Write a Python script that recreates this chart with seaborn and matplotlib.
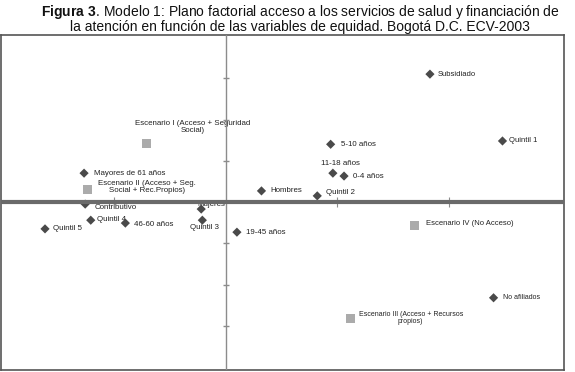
import matplotlib
matplotlib.use("Agg")
import matplotlib.pyplot as plt
import seaborn as sns
import pandas as pd

# factor coordinates
labels = ["Subsidiado", "Quintil 1", "Escenario I (Acceso + Seguridad\nSocial)",
          "Mayores de 61 años", "Escenario II (Acceso + Seg.\nSocial + Rec.Propios)",
          "Contributivo", "Quintil 4", "46-60 años", "Quintil 5", "Mujeres",
          "Quintil 3", "19-45 años", "5-10 años", "11-18 años", "0-4 años",
          "Hombres", "Quintil 2", "Escenario IV (No Acceso)", "No afiliados",
          "Escenario III (Acceso + Recursos\npropios)"]
x_vals = [1.83, 2.48, -0.71, -1.27, -1.24, -1.26, -1.21, -0.90, -1.62, -0.22,
          -0.21, 0.10, 0.94, 0.96, 1.06, 0.32, 0.82, 1.69, 2.40, 1.12]
y_vals = [3.10, 1.48, 1.43, 0.70, 0.31, -0.05, -0.44, -0.51, -0.65, -0.17,
          -0.44, -0.73, 1.40, 0.70, 0.63, 0.27, 0.15, -0.58, -2.32, -2.83]
kinds = ["var", "var", "esc", "var", "esc", "var", "var", "var", "var", "var",
         "var", "var", "var", "var", "var", "var", "var", "esc", "var", "esc"]
x_ticks = [-1, 1, 2]
y_ticks = [-3, -2, -1, 1, 2, 3]

# label placement: (dx px, dy px, ha, fontsize)
label_pos = {
    "Subsidiado": (8, 0, "left", 5.5),
    "Quintil 1": (7, 0, "left", 5.5),
    "Escenario I (Acceso + Seguridad\nSocial)": (46, 16, "center", 5.7),
    "Mayores de 61 años": (10, 0, "left", 5.7),
    "Escenario II (Acceso + Seg.\nSocial + Rec.Propios)": (60, 2, "center", 5.7),
    "Contributivo": (9, -3, "left", 5.7),
    "Quintil 4": (6, 1, "left", 5.7),
    "46-60 años": (9, -1, "left", 5.7),
    "Quintil 5": (8, 0, "left", 5.7),
    "Mujeres": (10, 5, "center", 5.7),
    "Quintil 3": (2, -7, "center", 5.7),
    "19-45 años": (9, 0, "left", 5.7),
    "5-10 años": (10, 0, "left", 5.7),
    "11-18 años": (8, 10, "center", 5.7),
    "0-4 años": (9, 0, "left", 5.7),
    "Hombres": (9, 0, "left", 5.7),
    "Quintil 2": (9, 3, "left", 5.7),
    "Escenario IV (No Acceso)": (12, 2, "left", 5.5),
    "No afiliados": (9, 0, "left", 5.0),
    "Escenario III (Acceso + Recursos\npropios)": (60, 1, "center", 5.0),
}

df = pd.DataFrame({"x": x_vals, "y": y_vals, "kind": kinds, "label": labels})

sns.set_style("white")
plt.rcParams["font.family"] = ["Liberation Sans", "DejaVu Sans"]
plt.rcParams["mathtext.fontset"] = "custom"
plt.rcParams["mathtext.bf"] = "Liberation Sans:bold"
plt.rcParams["mathtext.rm"] = "Liberation Sans"

fig = plt.figure(figsize=(5.75, 3.72), dpi=100)
ax = fig.add_axes([0.0026, 0.0054, 0.978, 0.9018])

sns.scatterplot(data=df, x="x", y="y", hue="kind", style="kind",
                markers={"var": "D", "esc": "s"},
                palette={"var": "#4a4a4a", "esc": "#ababab"},
                size="kind", sizes={"var": 22, "esc": 42},
                linewidth=0, legend=False, ax=ax, zorder=3)

for _, r in df.iterrows():
    dx, dy, ha, fs = label_pos[r["label"]]
    ax.annotate(r["label"], (r["x"], r["y"]), xytext=(dx * 0.72, dy * 0.72),
                textcoords="offset points", ha=ha, va="center",
                fontsize=fs, color="#222222", linespacing=1.0, zorder=2)

ax.axvline(0, color="#8c8c8c", lw=1.0, zorder=4)
ax.axhline(0, color="#6a6a6a", lw=3.0, zorder=5)
ax.plot([0] * len(y_ticks), y_ticks, ls="none", marker="_", ms=4,
        mew=1.0, color="#8c8c8c", zorder=4)
ax.plot(x_ticks, [0] * len(x_ticks), ls="none", marker="|", ms=7,
        mew=0.8, color="#8c8c8c", zorder=4)

ax.set_xlim(-2.01, 3.03)
ax.set_ylim(-4.07, 4.06)
ax.set_xticks([])
ax.set_yticks([])
ax.set_xlabel("")
ax.set_ylabel("")
for s in ax.spines.values():
    s.set_color("#555555")
    s.set_linewidth(1.2)

fig.text(0.522, 0.992,
         r"$\mathbf{Figura\ 3}$. Modelo 1: Plano factorial acceso a los servicios de salud y financiación de"
         "\nla atención en función de las variables de equidad. Bogotá D.C. ECV-2003",
         ha="center", va="top", fontsize=10, linespacing=0.9, color="#111111")

fig.savefig("out.png", dpi=100)
